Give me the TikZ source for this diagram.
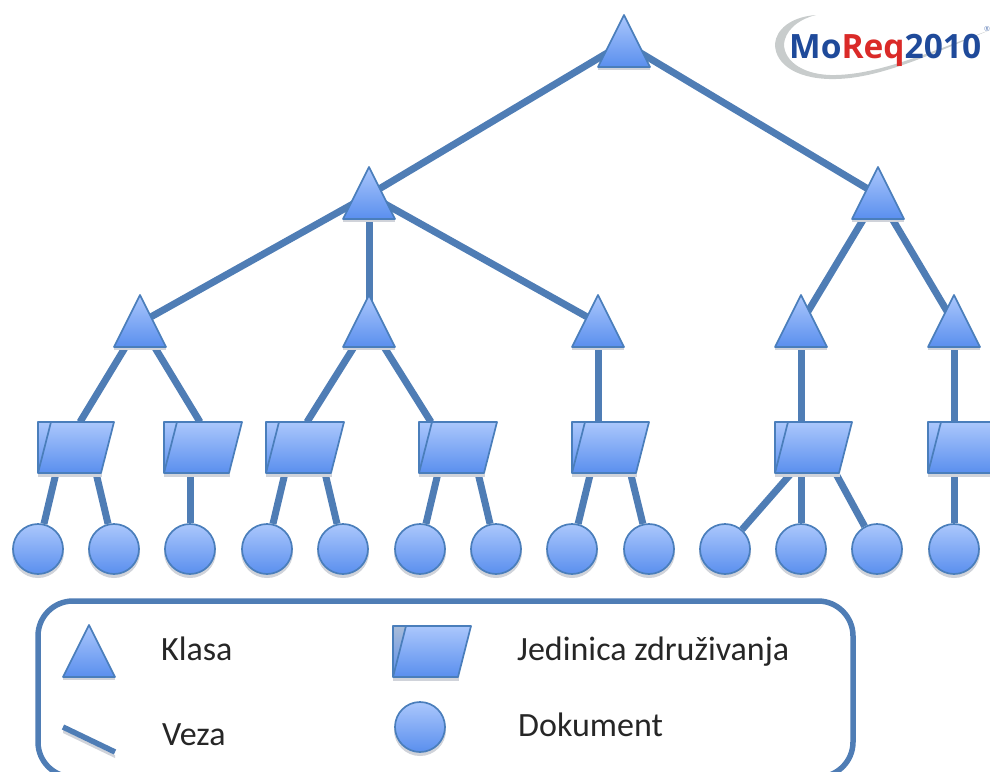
\documentclass[tikz,border=0pt]{standalone}
\usepackage{fontspec}
\setmainfont{Carlito}
\newfontfamily\logofont{Open Sans}
\usetikzlibrary{calc}
\pgfdeclarelayer{bg}
\pgfsetlayers{bg,main}
\definecolor{edge}{HTML}{4A7EBB}
\definecolor{wire}{HTML}{4F7DB5}
\definecolor{shtop}{HTML}{ABC7FC}
\definecolor{shbot}{HTML}{5A8FEE}
\definecolor{shadowc}{HTML}{D0D3DA}
\definecolor{logoblue}{HTML}{1F4A9A}
\definecolor{logored}{HTML}{DA2A28}
\definecolor{swoosh}{HTML}{C8CCCC}
\definecolor{foldgray}{HTML}{A9BCD8}
\tikzset{
  x=1pt,y=-1pt,
  hold/.style={inner sep=0pt,outer sep=0pt,minimum width=#1,minimum height=51pt},
  body/.style={draw=edge,line width=1.7pt,line join=round,top color=shtop,bottom color=shbot},
  shade box/.style={fill=shadowc,draw=none},
  link/.style={draw=wire,line width=7pt},
  doc/.style={circle,draw=edge,line width=1.7pt,minimum size=50pt,inner sep=0pt,top color=shtop,bottom color=shbot},
  label/.style={anchor=base west,inner sep=0pt,font=\fontsize{34}{36}\selectfont,text=black!85},
}
% name, centre x, top y
\newcommand{\Klasa}[3]{%
  \fill[shade box] (#2-26,#3+52)--(#2+26,#3+52)--(#2+26,#3+55)--(#2-26,#3+55)--cycle;
  \path[body] (#2,#3)--(#2+26,#3+52)--(#2-26,#3+52)--cycle;
  \node[hold=52pt] (#1) at (#2,#3+28) {};
}
% name, left x, top y, width, fold colour
\newcommand{\Jedinica}[5]{%
  \fill[shade box] (#2,#3+51) rectangle (#2+#4-12,#3+55);
  \path[top color=#5,bottom color=shbot,draw=none] (#2,#3)--(#2+13,#3)--(#2,#3+51)--cycle;
  \path[body] (#2+13,#3)--(#2+#4,#3)--(#2+#4-13,#3+51)--(#2,#3+51)--cycle;
  \draw[edge,line width=1.7pt,line join=round] (#2,#3+51)--(#2,#3)--(#2+13,#3);
  \node[hold=#4 pt] (#1) at (#2+#4/2,#3+25.5) {};
}
% name, centre x, centre y
\newcommand{\Dokument}[3]{%
  \fill[shadowc] (#2,#3+3) circle (26);
  \node[doc] (#1) at (#2,#3) {};
}
\begin{document}
\begin{tikzpicture}
\useasboundingbox (0,0) rectangle (990,771);

% logo
\fill[swoosh] (816,15) .. controls (790,17) and (776,30) .. (775,44)
  .. controls (775,66) and (800,80) .. (836,79)
  .. controls (880,78) and (930,55) .. (990,30)
  .. controls (930,52) and (880,74) .. (836,75)
  .. controls (805,76) and (784,62) .. (784,44)
  .. controls (785,32) and (796,20) .. (816,15) -- cycle;
\node[anchor=base west,inner sep=0pt,font=\logofont\bfseries\fontsize{33.5}{36}\selectfont] (logo) at (789,58)
  {\textcolor{logoblue}{Mo}\textcolor{logored}{Req}\textcolor{logoblue}{2010}};
\node[anchor=center,inner sep=0pt,font=\logofont\fontsize{7}{8}\selectfont,text=logoblue!70] (reg) at (987,29) {®};

% tree
\Klasa{t0}{624}{15}
\Klasa{t1}{369}{167}
\Klasa{t2}{878}{167}
\Klasa{a1}{140}{295}
\Klasa{a2}{369}{295}
\Klasa{a3}{598}{295}
\Klasa{a4}{801}{295}
\Klasa{a5}{954}{295}
\Jedinica{p1}{38}{422}{76}{shtop}
\Jedinica{p2}{164}{422}{78}{shtop}
\Jedinica{p3}{266}{422}{78}{shtop}
\Jedinica{p4}{419}{422}{78}{shtop}
\Jedinica{p5}{572}{422}{77}{shtop}
\Jedinica{p6}{775}{422}{77}{shtop}
\Jedinica{p7}{928}{422}{77}{shtop}
\Dokument{c1}{38}{549}
\Dokument{c2}{114}{549}
\Dokument{c3}{190}{549}
\Dokument{c4}{267}{549}
\Dokument{c5}{343}{549}
\Dokument{c6}{420}{549}
\Dokument{c7}{496}{549}
\Dokument{c8}{572}{549}
\Dokument{c9}{649}{549}
\Dokument{c10}{725}{549}
\Dokument{c11}{801}{549}
\Dokument{c12}{877}{549}
\Dokument{c13}{954}{549}

\begin{pgfonlayer}{bg}
\draw[link] (t0.center)--(t1.center);
\draw[link] (t0.center)--(t2.center);
\draw[link] (t1.center)--(a1.center);
\draw[link] (t1.center)--(a2.center);
\draw[link] (t1.center)--(a3.center);
\draw[link] (t2.center)--(a4.center);
\draw[link] (t2.center)--(a5.center);
\draw[link] (a1.center)--($(p1.north)+(4,0)$);
\draw[link] (a1.center)--($(p2.north)+(-3,0)$);
\draw[link] (a2.center)--($(p3.north)+(2,0)$);
\draw[link] (a2.center)--($(p4.north)+(-27,0)$);
\draw[link] (a3.center)--(a3.center|-p5.north);
\draw[link] (a4.center)--(a4.center|-p6.north);
\draw[link] (a5.center)--(a5.center|-p7.north);
\draw[link] ($(p1.south)+(-20,0)$)--(c1);
\draw[link] ($(p1.south)+(20,0)$)--(c2);
\draw[link] (c3.center|-p2.south)--(c3);
\draw[link] ($(p3.south)+(-20,0)$)--(c4);
\draw[link] ($(p3.south)+(20,0)$)--(c5);
\draw[link] ($(p4.south)+(-20,0)$)--(c6);
\draw[link] ($(p4.south)+(20,0)$)--(c7);
\draw[link] ($(p5.south)+(-20,0)$)--(c8);
\draw[link] ($(p5.south)+(20,0)$)--(c9);
\draw[link] ($(p6.south)+(-22,0)$)--(c10);
\draw[link] (c11.center|-p6.south)--(c11);
\draw[link] ($(p6.south)+(22,0)$)--(c12);
\draw[link] (c13.center|-p7.south)--(c13);
\end{pgfonlayer}

% legend
\node[draw=wire,line width=5.5pt,rounded corners=35pt,minimum width=815pt,minimum height=176pt,inner sep=0pt] (legend) at (445.5,689) {};
\Klasa{lk}{89}{625}
\Jedinica{lj}{393}{626}{78}{foldgray}
\Dokument{ld}{420}{727}
\coordinate (va) at (63,727);
\coordinate (vb) at (115,752);
\fill[shadowc] (63,730)--(115,755)--(115,758)--(63,733)--cycle;
\draw[draw=wire,line width=5.5pt] (va)--(vb);
\node[label] (lt1) at (161,660) {Klasa};
\node[label] (lt2) at (162,745) {Veza};
\node[label] (lt3) at (517,660) {Jedinica združivanja};
\node[label] (lt4) at (518,736) {Dokument};
\end{tikzpicture}
\end{document}
